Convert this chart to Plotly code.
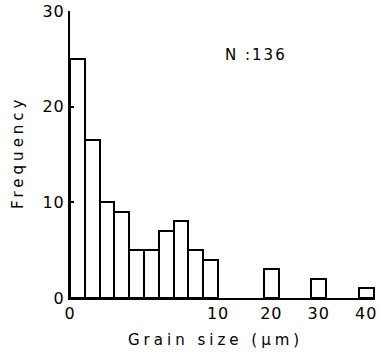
import numpy as np
import plotly.graph_objects as go

# Data (grain size in µm, bin centers) and frequencies
grain_size = [0.5, 1.5, 2.5, 3.5, 4.5, 5.5, 6.5, 7.5, 8.5, 9.5, 20, 30, 40]
frequency = [25, 16.5, 10, 9, 5, 5, 7, 8, 5, 4, 3, 2, 1]
tick_sizes = [0, 10, 20, 30, 40]
tick_labels = ["0", "10", "20", "30", "40"]
y_ticks = [0, 10, 20, 30]
y_labels = ["0", "10", "20", "30"]

# Broken (compressed) x scale beyond 10 µm
scale_src = [0, 10, 20, 30, 40]
scale_dst = [0, 10, 13.6, 16.8, 20.0]

def xmap(v):
    return np.interp(v, scale_src, scale_dst)

def spaced(s, px):
    return f'<span style="letter-spacing:{px}px">{s}</span>'

font_main = "DejaVu Sans, Arial, sans-serif"
W, H = 379, 357
ML, MR, MT, MB = 70, 4, 11, 59

fig = go.Figure()
fig.add_trace(go.Bar(
    x=xmap(grain_size),
    y=frequency,
    width=1.0,
    marker=dict(color="white", line=dict(color="black", width=2)),
    showlegend=False,
    hoverinfo="skip",
))

fig.update_layout(
    width=W, height=H,
    margin=dict(l=ML, r=MR, t=MT, b=MB),
    paper_bgcolor="white", plot_bgcolor="white",
    font=dict(family=font_main, color="black", size=14),
    bargap=0,
    xaxis=dict(
        range=[0, 20.6], automargin=False,
        tickvals=xmap(tick_sizes), ticktext=[spaced(t, 1) for t in tick_labels],
        ticks="", showgrid=False, zeroline=False,
        showline=True, linecolor="black", linewidth=2,
        tickfont=dict(size=16),
        fixedrange=True,
    ),
    yaxis=dict(
        range=[0, 30], automargin=False,
        tickvals=y_ticks, ticktext=[spaced(t, 1) for t in y_labels],
        ticks="inside", ticklen=4, tickwidth=2, tickcolor="black",
        showgrid=False, zeroline=False,
        showline=True, linecolor="black", linewidth=2,
        tickfont=dict(size=16),
        fixedrange=True,
    ),
    annotations=[
        dict(
            text=spaced("N :136", 2),
            x=223, y=55, xref="paper", yref="paper",
            xanchor="left", yanchor="middle", showarrow=False,
            font=dict(size=15),
        ),
        dict(
            text=spaced("Grain size (μm)", 4),
            x=215, y=340, xref="paper", yref="paper",
            xanchor="center", yanchor="middle", showarrow=False,
            font=dict(size=15),
        ),
        dict(
            text=spaced("Frequency", 4),
            x=18, y=152, xref="paper", yref="paper", textangle=-90,
            xanchor="center", yanchor="middle", showarrow=False,
            font=dict(size=15),
        ),
    ],
)

# convert pixel positions of annotations to paper coordinates
pw = W - ML - MR
ph = H - MT - MB
for a in fig.layout.annotations:
    px, py = a.x, a.y
    a.x = (px - ML) / pw
    a.y = 1 - (py - MT) / ph

fig.write_html("out.html",
               config={"displayModeBar": False},
               post_script="document.body.style.margin='0';document.body.style.overflow='hidden';")
